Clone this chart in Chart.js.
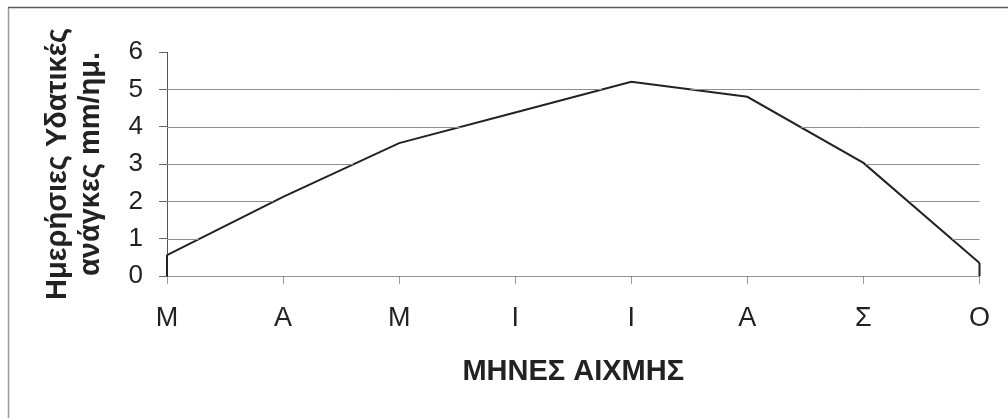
<!DOCTYPE html>
<html>
<head>
<meta charset="utf-8">
<script src="https://cdn.jsdelivr.net/npm/chart.js@4.4.1/dist/chart.umd.min.js"></script>
<style>
  html, body { margin: 0; padding: 0; background: #ffffff; }
  #wrap { position: relative; width: 1008px; height: 418px; }
</style>
</head>
<body>
<div id="wrap"><canvas id="c" width="1008" height="418"></canvas></div>
<script>
// Peak-month labels (March .. October)
const months = ['Μ', 'Α', 'Μ', 'Ι', 'Ι', 'Α', 'Σ', 'Ο'];
// Daily water requirement, mm/day
const waterNeeds = [0.56, 2.12, 3.56, 4.38, 5.2, 4.8, 3.03, 0.35];
// Value axis range and step
const yMin = 0;
const yMax = 6;
const yStep = 1;

const yTitle = ['Ημερήσιες Υδατικές', 'ανάγκες mm/ημ.'];
const xTitle = 'ΜΗΝΕΣ ΑΙΧΜΗΣ';

// Frame edges, gridline pieces that lie above the area (drawn last, so the
// order of the library's own layers does not matter), and the area's
// closing vertical edges.
const framePlugin = {
  id: 'frame',
  beforeDraw(chart) {
    const ctx = chart.ctx;
    ctx.save();
    ctx.fillStyle = '#ffffff';
    ctx.fillRect(0, 0, chart.width, chart.height);
    ctx.lineWidth = 1.5;
    ctx.strokeStyle = '#9a9a9a';
    ctx.beginPath();
    ctx.moveTo(8.5, chart.height);
    ctx.lineTo(8.5, 7.5);
    ctx.stroke();
    ctx.strokeStyle = '#5a5a5a';
    ctx.beginPath();
    ctx.moveTo(8, 7.5);
    ctx.lineTo(chart.width, 7.5);
    ctx.stroke();
    ctx.restore();
  },
  afterDraw(chart) {
    const y = chart.scales.y;
    const pts = chart.getDatasetMeta(0).data;
    if (pts.length < 2) return;
    const ctx = chart.ctx;
    ctx.save();
    ctx.strokeStyle = '#8e8e8e';
    ctx.lineWidth = 1;
    y.ticks.forEach(t => {
      if (t.value <= yMin || t.value >= yMax) return;
      const gy = y.getPixelForValue(t.value);
      const py = Math.round(gy) + 0.5;
      ctx.beginPath();
      for (let i = 0; i < pts.length - 1; i++) {
        const p0 = pts[i], p1 = pts[i + 1];
        const below0 = p0.y > gy + 1, below1 = p1.y > gy + 1;
        if (!below0 && !below1) continue;
        let xa = p0.x, xb = p1.x;
        if (below0 !== below1) {
          const tc = (gy - p0.y) / (p1.y - p0.y);
          const xc = p0.x + tc * (p1.x - p0.x);
          if (below0) xb = xc - 1; else xa = xc + 1;
        }
        ctx.moveTo(xa, py);
        ctx.lineTo(xb, py);
      }
      ctx.stroke();
    });

    // closing vertical edges of the area at the first and last month
    const base = y.getPixelForValue(0);
    ctx.strokeStyle = '#222222';
    ctx.lineWidth = 2;
    [pts[0], pts[pts.length - 1]].forEach(p => {
      ctx.beginPath();
      ctx.moveTo(p.x, p.y);
      ctx.lineTo(p.x, base);
      ctx.stroke();
    });
    ctx.restore();
  }
};

new Chart(document.getElementById('c'), {
  type: 'line',
  data: {
    labels: months,
    datasets: [{
      data: waterNeeds,
      borderColor: '#222222',
      borderWidth: 2,
      backgroundColor: '#ffffff',
      fill: 'origin',
      tension: 0,
      pointRadius: 0,
      pointHoverRadius: 0
    }]
  },
  options: {
    responsive: false,
    animation: false,
    events: [],
    layout: { padding: { left: 0, right: 25, top: 52, bottom: 0 } },
    plugins: {
      legend: { display: false },
      tooltip: { enabled: false }
    },
    scales: {
      x: {
        type: 'category',
        offset: false,
        afterFit(scale) { scale.height = 142; },
        border: { display: true, color: '#2a2a2a', width: 1.5 },
        grid: {
          drawOnChartArea: false,
          drawTicks: true,
          tickLength: 8,
          color: 'rgba(0,0,0,0)',
          tickColor: '#9a9a9a'
        },
        ticks: {
          padding: 18,
          maxRotation: 0,
          autoSkip: false,
          color: '#222222',
          font: { family: 'Liberation Sans', size: 27 }
        },
        title: {
          display: true,
          text: xTitle,
          color: '#222222',
          font: { family: 'Liberation Sans', size: 29, weight: 'bold' },
          padding: { top: 0, bottom: 29 }
        }
      },
      y: {
        min: yMin,
        max: yMax,
        afterFit(scale) { scale.width = 167; },
        border: { display: true, color: '#555555', width: 1 },
        grid: {
          drawOnChartArea: false,
          drawTicks: true,
          tickLength: 8,
          color: 'rgba(0,0,0,0)',
          tickColor: '#666666'
        },
        ticks: {
          stepSize: yStep,
          padding: 16,
          color: '#222222',
          font: { family: 'Liberation Sans', size: 26 }
        },
        title: {
          display: true,
          text: yTitle,
          color: '#222222',
          font: { family: 'Liberation Sans', size: 29, weight: 'bold', lineHeight: 1.15 },
          padding: { top: 41, bottom: 0 }
        }
      }
    }
  },
  plugins: [framePlugin]
});
</script>
</body>
</html>
